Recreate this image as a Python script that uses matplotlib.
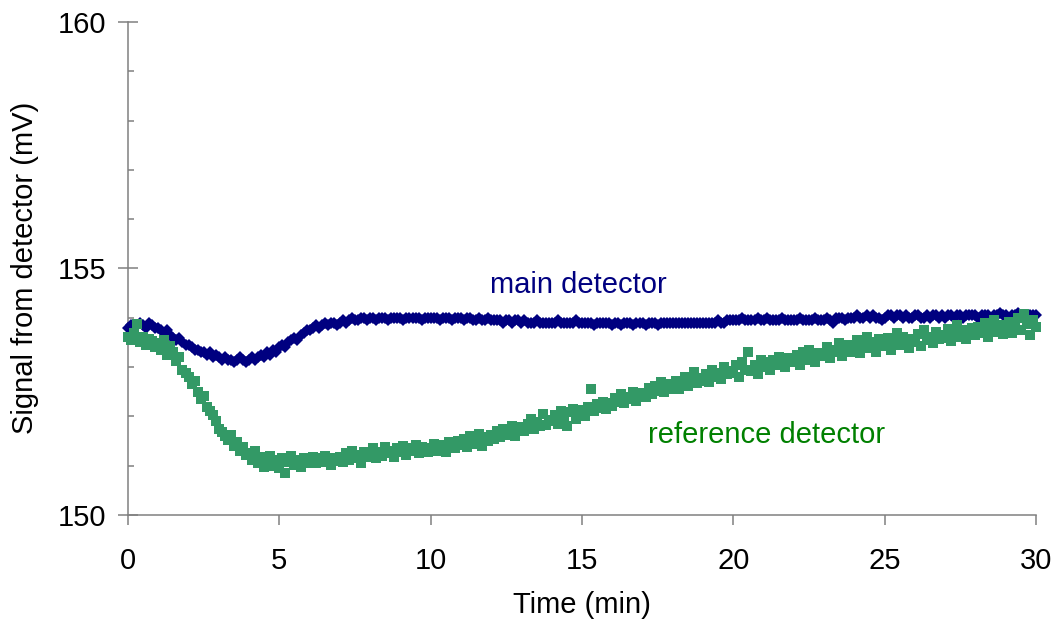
import numpy as np
import matplotlib
matplotlib.use("Agg")
import matplotlib.pyplot as plt
from matplotlib.ticker import MultipleLocator

plt.rcParams['font.family'] = ['Liberation Sans', 'DejaVu Sans']

# sampling times (min), one reading every 0.1 min
time_min = np.round(np.arange(301) * 0.1, 1)

main_detector = [
    153.80, 153.85, 153.80, 153.85, 153.90, 153.85, 153.80, 153.90, 153.85, 153.80,
    153.80, 153.75, 153.70, 153.75, 153.65, 153.60, 153.55, 153.60, 153.50, 153.45,
    153.45, 153.40, 153.35, 153.35, 153.30, 153.30, 153.25, 153.30, 153.20, 153.25,
    153.20, 153.15, 153.20, 153.15, 153.15, 153.10, 153.15, 153.20, 153.15, 153.10,
    153.15, 153.20, 153.15, 153.20, 153.25, 153.20, 153.30, 153.25, 153.35, 153.30,
    153.40, 153.45, 153.40, 153.50, 153.55, 153.60, 153.55, 153.65, 153.70, 153.75,
    153.75, 153.80, 153.85, 153.80, 153.85, 153.90, 153.85, 153.90, 153.90, 153.85,
    153.90, 153.95, 153.90, 153.95, 154.00, 153.95, 153.95, 154.00, 154.00, 153.95,
    154.00, 154.00, 153.95, 154.00, 154.00, 154.00, 153.95, 154.00, 154.00, 154.00,
    154.00, 153.95, 154.00, 154.00, 154.00, 154.00, 154.00, 153.95, 154.00, 154.00,
    154.00, 154.00, 154.00, 153.95, 154.00, 154.00, 154.00, 153.95, 154.00, 154.00,
    154.00, 153.95, 154.00, 154.00, 153.95, 153.95, 154.00, 153.95, 153.95, 154.00,
    153.95, 153.95, 153.95, 153.95, 153.90, 153.95, 153.95, 153.90, 153.95, 153.95,
    153.90, 153.95, 153.90, 153.90, 153.90, 153.95, 153.90, 153.90, 153.90, 153.90,
    153.90, 153.90, 153.95, 153.90, 153.90, 153.90, 153.90, 153.90, 153.95, 153.90,
    153.90, 153.90, 153.90, 153.90, 153.85, 153.90, 153.90, 153.90, 153.90, 153.90,
    153.85, 153.90, 153.90, 153.85, 153.90, 153.90, 153.90, 153.85, 153.90, 153.90,
    153.90, 153.85, 153.90, 153.90, 153.90, 153.85, 153.90, 153.90, 153.90, 153.90,
    153.90, 153.90, 153.90, 153.90, 153.90, 153.90, 153.90, 153.90, 153.90, 153.90,
    153.90, 153.90, 153.90, 153.90, 153.90, 153.95, 153.90, 153.90, 153.95, 153.95,
    153.95, 153.95, 153.95, 154.00, 153.95, 153.95, 153.95, 153.95, 154.00, 153.95,
    153.95, 154.00, 153.95, 153.95, 153.95, 153.95, 154.00, 153.95, 153.95, 153.95,
    153.95, 153.95, 154.00, 153.95, 153.95, 153.95, 153.95, 154.00, 153.95, 153.95,
    153.95, 154.00, 153.95, 153.90, 154.00, 154.00, 154.00, 153.95, 154.00, 154.00,
    154.00, 154.05, 154.00, 154.00, 154.05, 154.00, 154.05, 154.00, 154.00, 153.95,
    154.00, 154.05, 154.05, 154.00, 154.05, 154.05, 154.00, 154.05, 154.00, 154.00,
    154.05, 154.05, 154.00, 154.00, 154.05, 154.00, 154.05, 154.05, 154.00, 154.05,
    154.00, 154.05, 154.05, 154.00, 154.05, 154.05, 154.00, 154.05, 154.05, 154.05,
    154.05, 154.00, 154.05, 154.05, 154.05, 154.00, 154.05, 154.05, 154.10, 154.05,
    154.05, 154.00, 154.05, 154.05, 154.10, 154.05, 154.05, 154.00, 154.05, 154.05,
    154.05,
]

reference_detector = [
    153.62, 153.55, 153.70, 153.88, 153.50, 153.62, 153.45, 153.58, 153.52, 153.40,
    153.48, 153.35, 153.55, 153.25, 153.42, 153.30, 153.12, 153.20, 152.95, 152.88,
    152.80, 152.65, 152.72, 152.50, 152.35, 152.42, 152.20, 152.10, 152.02, 151.90,
    151.75, 151.68, 151.60, 151.52, 151.62, 151.40, 151.48, 151.30, 151.38, 151.22,
    151.25, 151.12, 151.30, 151.05, 151.18, 150.98, 151.10, 151.20, 151.00, 151.12,
    150.95, 151.15, 150.85, 151.08, 151.20, 151.02, 151.12, 150.98, 151.15, 151.05,
    151.10, 151.18, 151.05, 151.15, 151.08, 151.20, 151.12, 151.02, 151.15, 151.10,
    151.18, 151.08, 151.25, 151.12, 151.30, 151.15, 151.22, 151.05, 151.28, 151.18,
    151.22, 151.35, 151.15, 151.28, 151.20, 151.38, 151.25, 151.30, 151.18, 151.35,
    151.28, 151.40, 151.22, 151.35, 151.30, 151.42, 151.25, 151.38, 151.32, 151.28,
    151.35, 151.45, 151.30, 151.42, 151.38, 151.28, 151.48, 151.40, 151.35, 151.50,
    151.42, 151.55, 151.38, 151.60, 151.45, 151.52, 151.65, 151.40, 151.58, 151.50,
    151.62, 151.55, 151.70, 151.58, 151.75, 151.62, 151.68, 151.80, 151.60, 151.72,
    151.78, 151.70, 151.85, 151.95, 151.75, 151.88, 151.80, 152.05, 151.82, 151.92,
    151.90, 152.02, 151.85, 152.10, 151.98, 151.80, 152.08, 152.15, 151.95, 152.05,
    152.12, 152.00, 152.20, 152.55, 152.10, 152.25, 152.18, 152.30, 152.15, 152.28,
    152.22, 152.38, 152.30, 152.45, 152.28, 152.40, 152.35, 152.50, 152.32, 152.45,
    152.48, 152.40, 152.58, 152.45, 152.62, 152.52, 152.70, 152.50, 152.65, 152.55,
    152.60, 152.72, 152.55, 152.68, 152.80, 152.62, 152.75, 152.90, 152.68, 152.78,
    152.72, 152.85, 152.70, 152.95, 152.80, 152.88, 152.75, 153.00, 152.85, 152.92,
    152.88, 153.05, 152.80, 153.10, 152.95, 153.30, 152.92, 153.05, 152.85, 153.15,
    153.00, 153.10, 152.95, 153.15, 153.05, 153.20, 153.08, 153.00, 153.18, 153.10,
    153.12, 153.25, 153.05, 153.30, 153.15, 153.35, 153.20, 153.10, 153.28, 153.22,
    153.25, 153.40, 153.18, 153.35, 153.30, 153.48, 153.22, 153.38, 153.45, 153.30,
    153.35, 153.55, 153.28, 153.45, 153.62, 153.38, 153.50, 153.30, 153.58, 153.42,
    153.48, 153.60, 153.35, 153.55, 153.70, 153.45, 153.62, 153.52, 153.38, 153.58,
    153.50, 153.68, 153.42, 153.75, 153.55, 153.62, 153.48, 153.72, 153.58, 153.65,
    153.60, 153.78, 153.52, 153.70, 153.85, 153.62, 153.75, 153.58, 153.68, 153.80,
    153.65, 153.82, 153.70, 153.90, 153.62, 153.78, 153.95, 153.72, 153.85, 153.68,
    153.80, 153.92, 153.70, 153.85, 154.00, 153.75, 154.08, 153.88, 153.65, 153.95,
    153.82,
]

x_ticks = [0, 5, 10, 15, 20, 25, 30]
y_ticks = [150, 155, 160]

NAVY = '#000080'
GREEN_MARK = '#339966'
GREEN_TEXT = '#008000'
SPINE = '#808080'
FS = 21

fig = plt.figure(figsize=(10.64, 6.24), dpi=100)
ax = fig.add_axes([128/1064, 1 - 515/624, (1036 - 128)/1064, (515 - 22)/624])

ax.plot(time_min, main_detector, linestyle='none', marker='D', ms=6.0,
        mew=0, color=NAVY, zorder=3, clip_on=False)
ax.plot(time_min, reference_detector, linestyle='none', marker='s', ms=7.0,
        mew=0, color=GREEN_MARK, zorder=4, clip_on=False)

ax.set_xlim(0, 30)
ax.set_ylim(150, 160)
ax.set_xticks(x_ticks)
ax.set_yticks(y_ticks)
ax.yaxis.set_minor_locator(MultipleLocator(1))

for s in ['top', 'right']:
    ax.spines[s].set_visible(False)
for s in ['left', 'bottom']:
    ax.spines[s].set_color(SPINE)
    ax.spines[s].set_linewidth(1.1)
    ax.spines[s].set_zorder(2)

ax.tick_params(axis='y', which='major', direction='inout', length=14.4,
               width=1.1, color=SPINE, pad=8.6, labelsize=FS)
ax.tick_params(axis='y', which='minor', direction='in', length=4.5,
               width=1.1, color=SPINE)
ax.tick_params(axis='x', which='major', direction='out', length=7,
               width=1.1, color=SPINE, pad=16, labelsize=FS)

ax.text(14.87, 154.67, 'main detector', color=NAVY, fontsize=FS,
        ha='center', va='center')
ax.text(21.1, 151.62, 'reference detector', color=GREEN_TEXT, fontsize=FS,
        ha='center', va='center')

fig.text(582/1064, 1 - 613/624, 'Time (min)', fontsize=FS, ha='center',
         va='baseline')
fig.text(25/1064, 1 - 268/624, 'Signal from detector (mV)', fontsize=FS,
         ha='center', va='center', rotation=90)

fig.savefig('out.png', dpi=100)
